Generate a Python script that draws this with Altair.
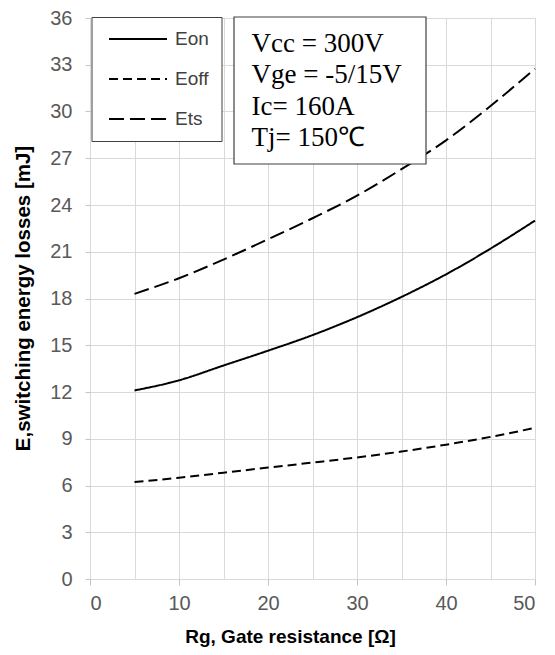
import altair as alt
import pandas as pd

# ---- data ----
rg = [5, 10, 15, 20, 25, 30, 35, 40, 45, 50]
eon = [12.1, 12.75, 13.7, 14.65, 15.65, 16.8, 18.1, 19.55, 21.2, 23.0]
eoff = [6.22, 6.5, 6.82, 7.15, 7.47, 7.8, 8.18, 8.62, 9.12, 9.7]
ets = [18.3, 19.3, 20.5, 21.8, 23.15, 24.6, 26.3, 28.15, 30.35, 32.75]
series_names = ["Eon", "Eoff", "Ets"]
x_ticks = [0, 10, 20, 30, 40, 50]
x_grid = [0, 5, 10, 15, 20, 25, 30, 35, 40, 45, 50]
y_ticks = list(range(0, 37, 3))
cond_lines = ["Vcc = 300V", "Vge = -5/15V", "Ic= 160A", "Tj= 150\u2103"]

df = pd.DataFrame({
    "Rg": rg * 3,
    "E": eon + eoff + ets,
    "series": ["Eon"] * len(rg) + ["Eoff"] * len(rg) + ["Ets"] * len(rg),
})
one = pd.DataFrame({"k": [0]})

GRID = "#d9d9d9"
LBL = "#595959"
xscale = alt.Scale(domain=[0, 50], nice=False, zero=False)
yscale = alt.Scale(domain=[0, 36], nice=False)

grid_layer = alt.Chart(df).mark_point(opacity=0).encode(
    x=alt.X("Rg:Q", scale=xscale,
            axis=alt.Axis(orient="top", values=x_grid, grid=True, gridColor=GRID,
                          gridWidth=1, labels=False, ticks=False, domain=False,
                          title=None)),
)

lines = alt.Chart(df).mark_line(interpolate="monotone", strokeWidth=2, color="black").encode(
    x=alt.X("Rg:Q", scale=xscale,
            axis=alt.Axis(values=x_ticks, grid=False, domain=False, tickColor="#c4c4c4",
                          tickSize=6, labelFontSize=20, labelColor=LBL, labelPadding=8,
                          labelFont="Liberation Sans",
                          title="Rg, Gate resistance [\u03a9]", titleFontSize=19,
                          titleFontWeight="bold", titleFont="Liberation Sans",
                          titleColor="black", titleX=200, titleY=63,
                          titleBaseline="alphabetic", titleAlign="center")),
    y=alt.Y("E:Q", scale=yscale,
            axis=alt.Axis(values=y_ticks, grid=True, gridColor=GRID, domain=False,
                          tickColor="#c4c4c4", tickSize=5, labelFontSize=20,
                          labelColor=LBL, labelPadding=13, labelFont="Liberation Sans",
                          title="E,switching energy losses [mJ]", titleFontSize=20.5,
                          titleFontWeight="bold", titleFont="Liberation Sans",
                          titleColor="black", titleAngle=-90, titleX=-61, titleY=280,
                          titleBaseline="alphabetic", titleAlign="center")),
    strokeDash=alt.StrokeDash(
        "series:N",
        scale=alt.Scale(domain=series_names, range=[[1, 0], [9, 5], [15, 6]]),
        legend=alt.Legend(
            title=None, orient="none", legendX=1.5, legendY=-1,
            fillColor="white", strokeColor="#404040", padding=12,
            symbolType="stroke", symbolSize=3364, symbolStrokeWidth=2,
            symbolStrokeColor="black", symbolOffset=4.5, clipHeight=20,
            labelFontSize=19, labelColor="#404040",
            labelFont="Liberation Sans", labelOffset=7, rowPadding=20,
        ),
    ),
    detail="series:N",
)

box = alt.Chart(one).mark_rect(fill="white", stroke="#404040", strokeWidth=1.2).encode(
    x=alt.value(144), x2=alt.value(336), y=alt.value(-1), y2=alt.value(146)
)

cond_text = alt.Chart(one).mark_text(
    align="left", baseline="alphabetic", font="Liberation Serif", fontSize=27,
    lineHeight=31.6, color="black",
).encode(x=alt.value(161.5), y=alt.value(33.7), text=alt.value(cond_lines))

chart = alt.layer(grid_layer, lines, box, cond_text).resolve_axis(
    x="independent"
).properties(
    width=445, height=561,
    autosize=alt.AutoSizeParams(type="none"),
    padding={"left": 90, "top": 18, "right": 20, "bottom": 76},
).configure_view(stroke=None).configure(font="Liberation Sans", background="white")

chart.save("out.html", embed_options={"renderer": "svg", "actions": False})
